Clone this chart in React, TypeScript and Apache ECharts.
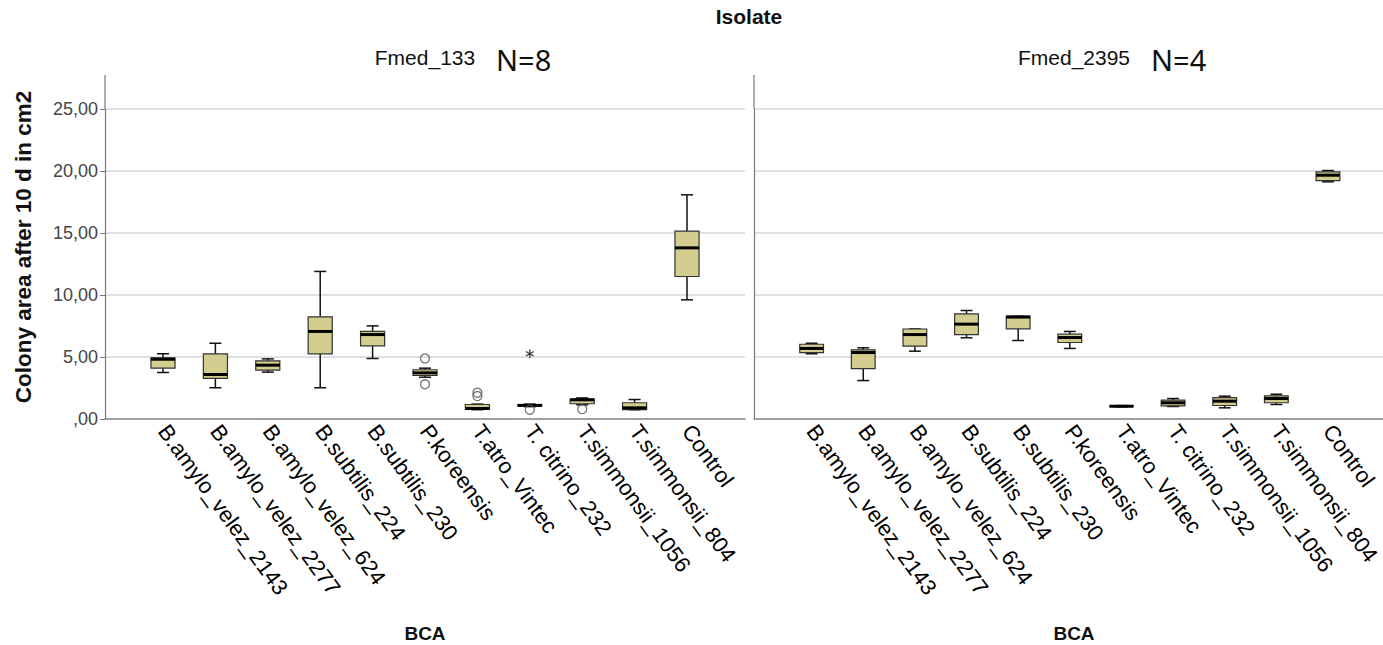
import React, { useEffect, useRef } from "react";
import * as echarts from "echarts";

const categories = [
  "B.amylo_velez_2143",
  "B.amylo_velez_2277",
  "B.amylo_velez_624",
  "B.subtilis_224",
  "B.subtilis_230",
  "P.koreensis",
  "T.atro_Vintec",
  "T. citrino_232",
  "T.simmonsii_1056",
  "T.simmonsii_804",
  "Control",
];

const mainTitle = "Isolate";
const panelTitles = ["Fmed_133", "Fmed_2395"];
const panelN = ["N=8", "N=4"];
const yAxisTitle = "Colony area after 10 d in cm2";
const xAxisTitle = "BCA";

// [min, Q1, median, Q3, max]
const boxFmed133 = [
  [3.75, 4.1, 4.82, 4.93, 5.26],
  [2.52, 3.27, 3.59, 5.26, 6.11],
  [3.78, 3.94, 4.34, 4.69, 4.85],
  [2.52, 5.26, 7.06, 8.24, 11.9],
  [4.88, 5.9, 6.81, 7.06, 7.51],
  [3.37, 3.51, 3.72, 3.97, 4.1],
  [0.75, 0.77, 0.85, 1.17, 1.2],
  [1.0, 1.05, 1.1, 1.15, 1.2],
  [1.15, 1.23, 1.55, 1.6, 1.7],
  [0.75, 0.75, 0.9, 1.31, 1.57],
  [9.61, 11.49, 13.8, 15.15, 18.08],
];
const boxFmed2395 = [
  [5.26, 5.36, 5.69, 6.03, 6.11],
  [3.1, 4.07, 5.36, 5.58, 5.74],
  [5.47, 5.87, 6.81, 7.26, 7.26],
  [6.55, 6.81, 7.65, 8.48, 8.75],
  [6.33, 7.27, 8.22, 8.29, 8.29],
  [5.69, 6.17, 6.57, 6.84, 7.06],
  [0.98, 1.0, 1.03, 1.05, 1.08],
  [1.01, 1.06, 1.31, 1.52, 1.65],
  [0.9, 1.09, 1.44, 1.73, 1.84],
  [1.17, 1.31, 1.65, 1.87, 2.0],
  [19.13, 19.23, 19.66, 19.93, 20.04],
];
// [category index, value]
const outliersFmed133 = [
  [5, 4.88],
  [5, 2.8],
  [6, 2.12],
  [6, 1.85],
  [7, 0.75],
  [8, 0.8],
];
const extremesFmed133 = [[7, 5.26]];

const yMax = 25;
const yInterval = 5;

const FONT = "'Liberation Sans', Arial, sans-serif";
const BOX_FILL = "#d3cd90";

function boxRender(params: any, api: any) {
  const idx = api.value(0);
  const vals = [1, 2, 3, 4, 5].map((i) => api.value(i));
  const pts = vals.map((v) => api.coord([idx, v]));
  const x = pts[0][0];
  const band = api.size([1, 0])[0];
  const hw = band * 0.23;
  const cw = band * 0.115;
  const [pMin, pQ1, pMed, pQ3, pMax] = pts.map((p: number[]) => p[1]);
  const wStyle = { stroke: "#111", lineWidth: 1.5 };
  return {
    type: "group",
    children: [
      { type: "line", shape: { x1: x, y1: pMax, x2: x, y2: pQ3 }, style: wStyle },
      { type: "line", shape: { x1: x, y1: pQ1, x2: x, y2: pMin }, style: wStyle },
      { type: "line", shape: { x1: x - cw, y1: pMax, x2: x + cw, y2: pMax }, style: wStyle },
      { type: "line", shape: { x1: x - cw, y1: pMin, x2: x + cw, y2: pMin }, style: wStyle },
      {
        type: "rect",
        shape: { x: x - hw, y: pQ3, width: hw * 2, height: Math.max(pQ1 - pQ3, 0.5) },
        style: { fill: BOX_FILL, stroke: "#333", lineWidth: 1.2 },
      },
      {
        type: "line",
        shape: { x1: x - hw, y1: pMed, x2: x + hw, y2: pMed },
        style: { stroke: "#000", lineWidth: 3 },
      },
    ],
  };
}

function starRender(params: any, api: any) {
  const p = api.coord([api.value(0), api.value(1)]);
  const r = 4.5;
  const children = [90, 30, 150].map((deg) => {
    const a = (deg * Math.PI) / 180;
    return {
      type: "line",
      shape: {
        x1: p[0] - r * Math.cos(a),
        y1: p[1] - r * Math.sin(a),
        x2: p[0] + r * Math.cos(a),
        y2: p[1] + r * Math.sin(a),
      },
      style: { stroke: "#333", lineWidth: 1.2 },
    };
  });
  return { type: "group", children };
}

export default function App() {
  const ref = useRef<HTMLDivElement>(null);
  useEffect(() => {
    if (!ref.current) return;
    const chart = echarts.init(ref.current, null, { renderer: "svg" });
    const top = 109;
    const height = 310;
    const bandW = 52.4;
    const outerLefts = [105, 754];
    const outerWidth = 640;
    const innerOffset = 58 - bandW / 2;
    const innerWidth = bandW * categories.length;

    const grids: any[] = [];
    const xAxes: any[] = [];
    const yAxes: any[] = [];
    outerLefts.forEach((l, p) => {
      grids.push({ left: l, top, width: outerWidth, height });
      grids.push({ left: l + innerOffset, top, width: innerWidth, height });
      xAxes.push({
        gridIndex: p * 2,
        type: "value",
        min: 0,
        max: 1,
        axisLine: { show: true, lineStyle: { color: "#8a8a8a", width: 1.5 } },
        axisTick: { show: false },
        axisLabel: { show: false },
        splitLine: { show: false },
      });
      xAxes.push({
        gridIndex: p * 2 + 1,
        type: "category",
        data: categories,
        axisLine: { show: false },
        axisTick: { show: false },
        splitLine: { show: false },
        axisLabel: {
          show: true,
          interval: 0,
          rotate: -54,
          margin: 8,
          color: "#000",
          fontSize: 22,
          fontFamily: FONT,
        },
      });
      yAxes.push({
        gridIndex: p * 2,
        type: "value",
        min: 0,
        max: yMax,
        interval: yInterval,
        axisLine: { show: true, lineStyle: { color: "#7a7a7a", width: 1.2 } },
        axisTick: { show: p === 0, length: 5, lineStyle: { color: "#7a7a7a" } },
        axisLabel: {
          show: p === 0,
          margin: 7,
          color: "#444",
          fontSize: 18,
          fontFamily: FONT,
          formatter: (v: number) => (v === 0 ? ",00" : v.toFixed(2).replace(".", ",")),
        },
        splitLine: { show: true, lineStyle: { color: "#d6d6d6", width: 1.5 } },
      });
      yAxes.push({
        gridIndex: p * 2 + 1,
        type: "value",
        min: 0,
        max: yMax,
        show: false,
      });
    });

    const toData = (boxes: number[][]) => boxes.map((b, i) => [i, ...b]);

    const option: any = {
      animation: false,
      backgroundColor: "#fff",
      grid: grids,
      xAxis: xAxes,
      yAxis: yAxes,
      series: [
        {
          type: "custom",
          xAxisIndex: 1,
          yAxisIndex: 1,
          renderItem: boxRender,
          encode: { x: 0, y: [1, 2, 3, 4, 5] },
          data: toData(boxFmed133),
          z: 3,
        },
        {
          type: "custom",
          xAxisIndex: 3,
          yAxisIndex: 3,
          renderItem: boxRender,
          encode: { x: 0, y: [1, 2, 3, 4, 5] },
          data: toData(boxFmed2395),
          z: 3,
        },
        {
          type: "scatter",
          xAxisIndex: 1,
          yAxisIndex: 1,
          symbol: "circle",
          symbolSize: 9,
          itemStyle: { color: "transparent", borderColor: "#555", borderWidth: 1.3 },
          data: outliersFmed133,
          z: 4,
        },
        {
          type: "custom",
          xAxisIndex: 1,
          yAxisIndex: 1,
          renderItem: starRender,
          encode: { x: 0, y: 1 },
          data: extremesFmed133,
          z: 4,
        },
      ],
      graphic: [
        { type: "line", shape: { x1: 105, y1: 75, x2: 105, y2: top }, style: { stroke: "#7a7a7a", lineWidth: 1.2 } },
        { type: "line", shape: { x1: 754, y1: 75, x2: 754, y2: top }, style: { stroke: "#7a7a7a", lineWidth: 1.2 } },
        {
          type: "text",
          x: 749,
          y: 16,
          style: { text: mainTitle, font: `bold 21px ${FONT}`, fill: "#111", align: "center", verticalAlign: "middle", textAlign: "center", textVerticalAlign: "middle" },
        },
        {
          type: "text",
          x: 425,
          y: 57,
          style: { text: panelTitles[0], font: `21px ${FONT}`, fill: "#111", align: "center", verticalAlign: "middle", textAlign: "center", textVerticalAlign: "middle" },
        },
        {
          type: "text",
          x: 1074,
          y: 57,
          style: { text: panelTitles[1], font: `21px ${FONT}`, fill: "#111", align: "center", verticalAlign: "middle", textAlign: "center", textVerticalAlign: "middle" },
        },
        {
          type: "text",
          x: 496,
          y: 59,
          style: { text: panelN[0], font: `29px 'Noto Sans', sans-serif`, fill: "#111", align: "left", verticalAlign: "middle", textAlign: "left", textVerticalAlign: "middle" },
        },
        {
          type: "text",
          x: 1151,
          y: 59,
          style: { text: panelN[1], font: `29px 'Noto Sans', sans-serif`, fill: "#111", align: "left", verticalAlign: "middle", textAlign: "left", textVerticalAlign: "middle" },
        },
        {
          type: "text",
          x: 425,
          y: 633,
          style: { text: xAxisTitle, font: `bold 19px ${FONT}`, fill: "#111", align: "center", verticalAlign: "middle", textAlign: "center", textVerticalAlign: "middle" },
        },
        {
          type: "text",
          x: 1074,
          y: 633,
          style: { text: xAxisTitle, font: `bold 19px ${FONT}`, fill: "#111", align: "center", verticalAlign: "middle", textAlign: "center", textVerticalAlign: "middle" },
        },
        {
          type: "text",
          x: 23,
          y: 247,
          rotation: Math.PI / 2,
          style: { text: yAxisTitle, font: `bold 22.5px ${FONT}`, fill: "#111", align: "center", verticalAlign: "middle", textAlign: "center", textVerticalAlign: "middle" },
        },
      ],
    };
    chart.setOption(option);
    return () => chart.dispose();
  }, []);
  return (
    <div
      ref={ref}
      style={{ position: "absolute", left: 0, top: 0, width: 1383, height: 645, background: "#fff" }}
    />
  );
}
